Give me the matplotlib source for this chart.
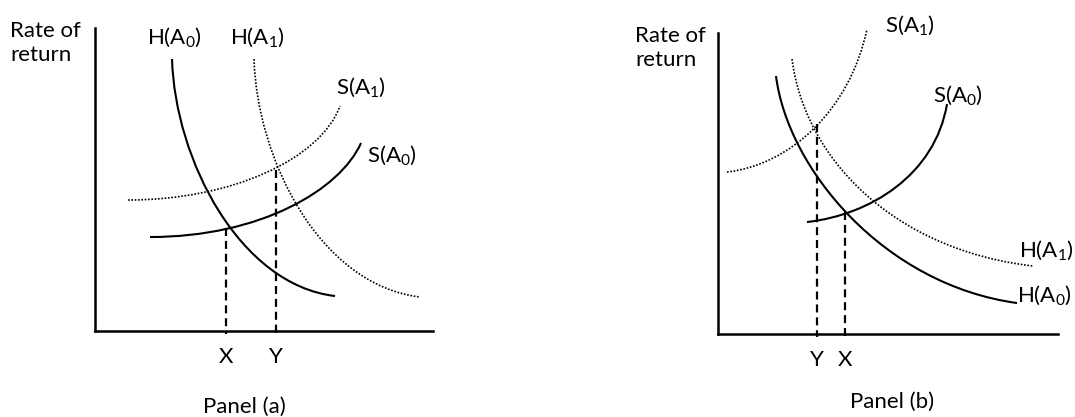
import matplotlib
matplotlib.use("Agg")
import matplotlib.pyplot as plt
from matplotlib.path import Path
from matplotlib.patches import PathPatch

plt.rcParams['font.family'] = ['Lato', 'DejaVu Sans']
plt.rcParams['mathtext.fontset'] = 'custom'
plt.rcParams['mathtext.rm'] = 'Lato'
plt.rcParams['mathtext.it'] = 'Lato:italic'

FS = 16

# Bezier control points (quantity, rate of return) for each schedule
# Panel (a)
a_H0 = [(7.7, 27.2), (8.0, 17.1), (14.5, 4.6), (24.0, 3.5)]
a_H1 = [(15.9, 27.2), (16.2, 17.1), (22.5, 4.6), (32.5, 3.4)]
a_S1 = [(3.3, 13.1), (13.5, 13.1), (22.5, 17.1), (24.5, 22.5)]
a_S0 = [(5.5, 9.4), (16.5, 9.4), (24.5, 14.1), (26.6, 18.8)]
a_eq_X = (13.1, 10.3)
a_eq_Y = (18.1, 16.1)

# Panel (b)
b_H0 = [(5.8, 25.8), (7.0, 16.4), (16.7, 4.9), (29.9, 3.1)]
b_H1 = [(7.4, 27.5), (8.7, 17.4), (17.7, 8.4), (31.5, 6.8)]
b_S1 = [(0.9, 16.2), (7.2, 16.9), (13.2, 22.4), (14.9, 30.5)]
b_S0 = [(8.9, 11.2), (15.2, 11.9), (21.7, 15.9), (22.9, 23.0)]
b_eq_Y = (9.9, 21.0)
b_eq_X = (12.7, 12.2)

SOLID = dict(color='black', lw=1.5)
DOTTED = dict(color='black', lw=1.2, linestyle=(0, (1, 1)))
DASHED = dict(color='black', lw=1.6, linestyle=(0, (3.6, 2.2)))


def curve(ax, pts, style):
    codes = [Path.MOVETO, Path.CURVE4, Path.CURVE4, Path.CURVE4]
    patch = PathPatch(Path(pts, codes), facecolor='none', clip_on=False,
                      edgecolor=style['color'], lw=style['lw'],
                      linestyle=style.get('linestyle', '-'))
    ax.add_patch(patch)


def drop(ax, pt):
    ax.plot([pt[0], pt[0]], [pt[1], -0.3], clip_on=False, **DASHED)


def setup(ax, xmax, ymax):
    ax.set_xlim(0, xmax)
    ax.set_ylim(0, ymax)
    for s in ['top', 'right']:
        ax.spines[s].set_visible(False)
    for s in ['left', 'bottom']:
        ax.spines[s].set_linewidth(1.8)
    ax.set_xticks([])
    ax.set_yticks([])
    ax.patch.set_alpha(0)


fig = plt.figure(figsize=(10.75, 4.17), dpi=100)

# ---------------- Panel (a) ----------------
ax1 = fig.add_axes([0.0884, 0.2062, 0.3144, 0.7266])
setup(ax1, 33.8, 30.3)
curve(ax1, a_H0, SOLID)
curve(ax1, a_H1, DOTTED)
curve(ax1, a_S1, DOTTED)
curve(ax1, a_S0, SOLID)
drop(ax1, a_eq_X)
drop(ax1, a_eq_Y)

ax1.text(-8.5, 28.8, "Rate of\nreturn", fontsize=FS, ha='left', va='center', linespacing=1.3)
ax1.text(7.9, 29.4, r"H(A$_0$)", fontsize=FS, ha='center', va='center')
ax1.text(16.2, 29.4, r"H(A$_1$)", fontsize=FS, ha='center', va='center')
ax1.text(26.6, 24.4, r"S(A$_1$)", fontsize=FS, ha='center', va='center')
ax1.text(29.7, 17.6, r"S(A$_0$)", fontsize=FS, ha='center', va='center')
ax1.text(a_eq_X[0], -2.6, "X", fontsize=FS, ha='center', va='center')
ax1.text(a_eq_Y[0], -2.6, "Y", fontsize=FS, ha='center', va='center')
ax1.text(14.9, -7.6, "Panel (a)", fontsize=FS, ha='center', va='center')

# ---------------- Panel (b) ----------------
ax2 = fig.add_axes([0.6679, 0.199, 0.3163, 0.7218])
setup(ax2, 34.0, 30.1)
curve(ax2, b_H0, SOLID)
curve(ax2, b_H1, DOTTED)
curve(ax2, b_S1, DOTTED)
curve(ax2, b_S0, SOLID)
drop(ax2, b_eq_Y)
drop(ax2, b_eq_X)

ax2.text(-8.3, 28.6, "Rate of\nreturn", fontsize=FS, ha='left', va='center', linespacing=1.3)
ax2.text(19.2, 30.9, r"S(A$_1$)", fontsize=FS, ha='center', va='center')
ax2.text(24.0, 23.9, r"S(A$_0$)", fontsize=FS, ha='center', va='center')
ax2.text(30.1, 8.4, r"H(A$_1$)", fontsize=FS, ha='left', va='center')
ax2.text(29.9, 3.9, r"H(A$_0$)", fontsize=FS, ha='left', va='center')
ax2.text(b_eq_Y[0], -2.6, "Y", fontsize=FS, ha='center', va='center')
ax2.text(b_eq_X[0], -2.6, "X", fontsize=FS, ha='center', va='center')
ax2.text(17.4, -6.8, "Panel (b)", fontsize=FS, ha='center', va='center')

fig.savefig("out.png", dpi=100)
